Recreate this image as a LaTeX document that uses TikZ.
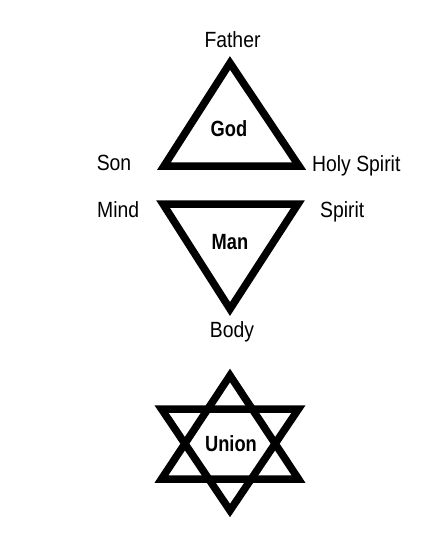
\documentclass[tikz,border=0pt]{standalone}
\usepackage{fontspec}
\setmainfont{Liberation Sans}
\begin{document}
\begin{tikzpicture}[x=1pt,y=-1pt,
  tri/.style={line width=7.5pt, line join=miter, miter limit=10},
  lab/.style={inner sep=0pt, anchor=base, font=\fontsize{22}{26}\selectfont},
  blab/.style={lab, font=\fontsize{22}{26}\selectfont\bfseries}]
\useasboundingbox (0,0) rectangle (442,539);
% God triangle
\coordinate (gA) at (230,63);
\coordinate (gL) at (164,166);
\coordinate (gR) at (299,166);
\draw[tri] (gA) -- (gL) -- (gR) -- cycle;
% Man triangle
\coordinate (mL) at (163,204);
\coordinate (mR) at (298,204);
\coordinate (mB) at (230,309);
\draw[tri] (mL) -- (mR) -- (mB) -- cycle;
% Star
\coordinate (uA) at (230,375.5);
\coordinate (uL) at (161.5,479);
\coordinate (uR) at (298.5,479);
\coordinate (dL) at (161.5,409);
\coordinate (dR) at (298.5,409);
\coordinate (dB) at (230,510.5);
\draw[tri] (uA) -- (uL) -- (uR) -- cycle;
\draw[tri] (dL) -- (dR) -- (dB) -- cycle;
% labels
\node[lab] (father) at (232.5,47) {\scalebox{0.88}[1]{Father}};
\node[lab] (son) at (114,170) {\scalebox{0.88}[1]{Son}};
\node[lab, anchor=base west] (holy) at (312,171) {\scalebox{0.88}[1]{Holy Spirit}};
\node[blab] (god) at (229,136) {\scalebox{0.83}[1]{God}};
\node[lab, anchor=base west] (mind) at (97,217) {\scalebox{0.88}[1]{Mind}};
\node[lab, anchor=base west] (spirit) at (320,217.5) {\scalebox{0.88}[1]{Spirit}};
\node[blab] (man) at (230,249) {\scalebox{0.83}[1]{Man}};
\node[lab] (body) at (232,337.5) {\scalebox{0.88}[1]{Body}};
\node[blab] (union) at (231,451) {\scalebox{0.83}[1]{Union}};
\end{tikzpicture}
\end{document}
